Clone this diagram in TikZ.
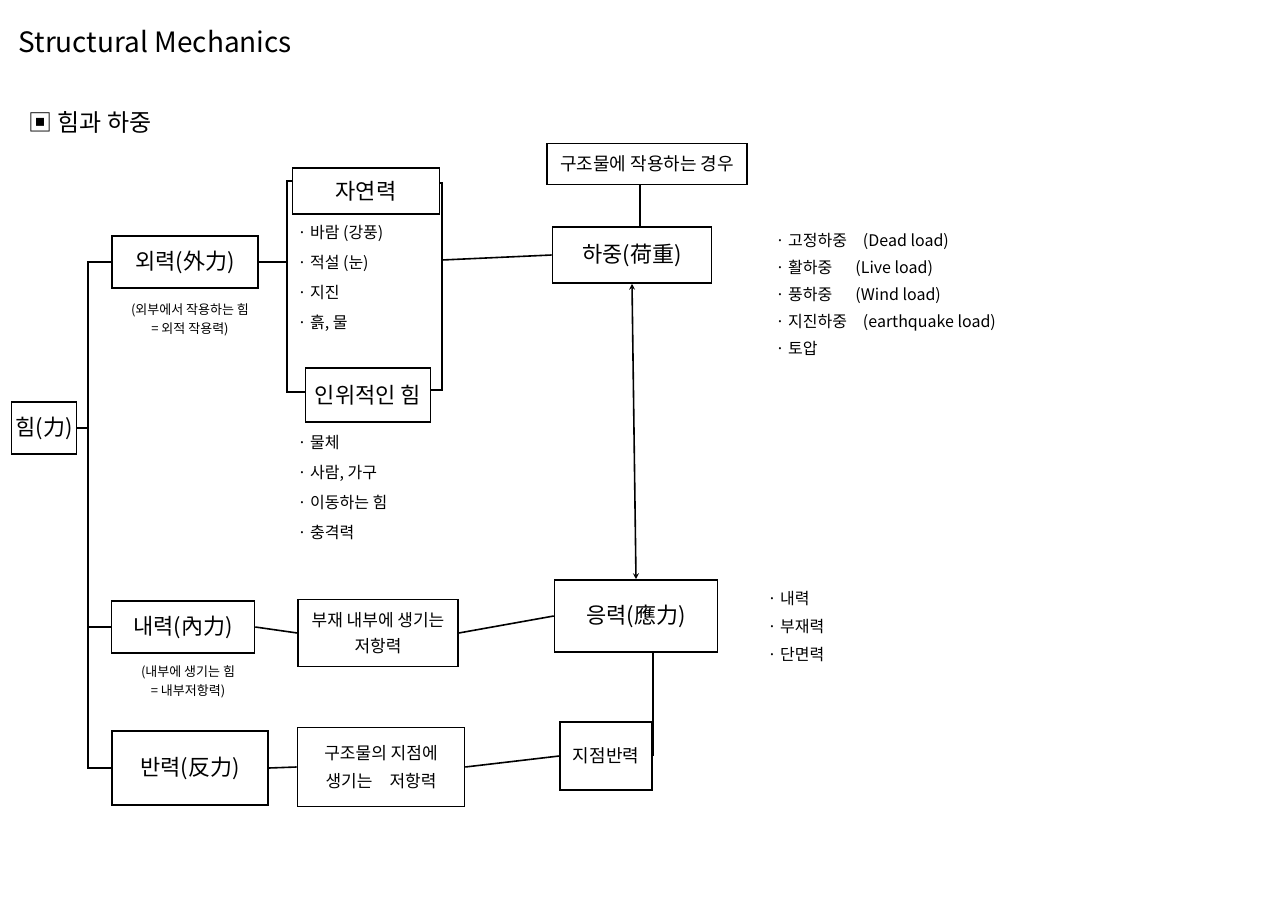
\documentclass[tikz,border=0pt]{standalone}
\usepackage{fontspec}
\setmainfont{Noto Sans CJK KR}
\usetikzlibrary{positioning}
\tikzset{
  box/.style={draw,line width=1.6pt,minimum height=52pt,inner sep=4pt,font=\fontsize{22}{26}\selectfont},
  note/.style={font=\fontsize{13}{19}\selectfont,align=center},
  item/.style={font=\fontsize{16}{30}\selectfont,align=left,anchor=north west},
  link/.style={line width=1.6pt}
}
\begin{document}
\begin{tikzpicture}[x=1pt,y=-1pt]
  % Frame
  \useasboundingbox (0,0) rectangle (1280,904);
  % Title
  \node[anchor=west,font=\fontsize{28}{32}\selectfont] (title) at (15,42) {Structural Mechanics};
  \node[anchor=west,font=\fontsize{24}{28}\selectfont] (sub) at (25,122) {▣ 힘과 하중};
  % Root and the three kinds
  \node[box,minimum width=64pt] (him) at (44,428) {힘(力)};
  \node[box,minimum width=146pt] (oe) at (185,262) {외력(外力)};
  \node[note] (oenote) at (190,320) {(외부에서 작용하는 힘\\= 외적 작용력)};
  \node[box,minimum width=143pt] (nae) at (183,627) {내력(內力)};
  \node[note] (naenote) at (188,682) {(내부에 생기는 힘\\= 내부저항력)};
  \node[box,minimum width=156pt,minimum height=74pt] (ban) at (190,768) {반력(反力)};
  % External force detail
  \node[box,minimum width=147pt,minimum height=46pt] (jayeon) at (366,191) {자연력};
  \node[item] (jlist) at (294,222) {·\ 바람 (강풍)\\·\ 적설 (눈)\\·\ 지진\\·\ 흙, 물};
  \node[item] (ilist) at (294,432) {·\ 물체\\·\ 사람, 가구\\·\ 이동하는 힘\\·\ 충격력};
  \node[box,minimum width=125pt,minimum height=54pt] (inwi) at (368,395) {인위적인 힘};
  \coordinate (bl) at (287,262);
  \coordinate (br) at (442,260);
  \draw[link] (293,181) -- (287,181) -- (287,392) -- (305,392);
  \draw[link] (440,183) -- (442,183) -- (442,390) -- (430,390);
  % Loads
  \node[box,minimum width=200pt,minimum height=41pt,font=\fontsize{18}{22}\selectfont] (case) at (647,164) {구조물에 작용하는 경우};
  \node[box,minimum width=159pt,minimum height=56pt] (hajung) at (632,255) {하중(荷重)};
  \node[item,font=\fontsize{16}{27}\selectfont] (hlist) at (772,230) {·\ 고정하중\quad(Dead load)\\·\ 활하중\quad\ \ (Live load)\\·\ 풍하중\quad\ \ (Wind load)\\·\ 지진하중\quad(earthquake load)\\·\ 토압};
  % Stress
  \node[box,minimum width=163pt,minimum height=72pt] (eung) at (636,616) {응력(應力)};
  \node[item,font=\fontsize{16}{28}\selectfont] (elist) at (764,588) {·\ 내력\\·\ 부재력\\·\ 단면력};
  \node[box,minimum width=160pt,minimum height=67pt,align=center,font=\fontsize{17}{26}\selectfont] (bujae) at (378,633) {부재 내부에 생기는\\저항력};
  \node[box,minimum width=167pt,minimum height=79pt,align=center,font=\fontsize{17}{28}\selectfont] (jijum) at (381,767) {구조물의 지점에\\생기는\quad 저항력};
  \node[box,minimum width=92pt,minimum height=68pt,font=\fontsize{18}{22}\selectfont] (jban) at (606,756) {지점반력};
  % Connectors
  \coordinate (trunk) at (88,428);
  \draw[link] (him.east) -- (trunk);
  \draw[link] (oe.west) -| (88,262) -- (88,768) -- (ban.west);
  \draw[link] (88,627) -- (nae.west);
  \draw[link] (oe.east) -- (bl);
  \draw[link] (br) -- (hajung.west);
  \draw[link] (case.south -| 640,0) -- (hajung.north -| 640,0);
  \draw[link,<->,>=stealth] (hajung.south) -- (eung.north);
  \draw[link] (nae.east) -- (bujae.west);
  \draw[link] (bujae.east) -- (eung.west);
  \draw[link] (ban.east) -- (jijum.west);
  \draw[link] (jijum.east) -- (jban.west);
  \draw[link] (eung.south -| jban.east) -- (jban.east);
\end{tikzpicture}
\end{document}
